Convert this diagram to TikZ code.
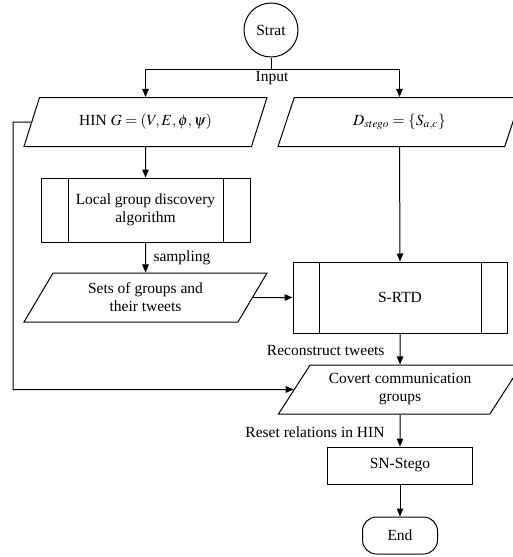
\documentclass[tikz,border=0pt]{standalone}
\usepackage{mathptmx}
\usepackage{fontspec}
\setmainfont{Liberation Serif}
\usetikzlibrary{arrows.meta,shapes.geometric}
\begin{document}
\begin{tikzpicture}[x=1pt,y=-1pt,
  font=\fontsize{15.5}{18}\selectfont,
  line width=1pt,
  arr/.style={-{Triangle[length=8pt,width=6.5pt]}},
  para/.style={draw,trapezium,trapezium left angle=45,trapezium right angle=135,
    trapezium stretches body,minimum width=243pt,minimum height=49pt,inner sep=0pt,align=center},
  proc/.style={draw,rectangle,inner sep=0pt,align=center,
    path picture={
      \draw ([xshift=#1]path picture bounding box.north west) -- ([xshift=#1]path picture bounding box.south west);
      \draw ([xshift=-#1]path picture bounding box.north east) -- ([xshift=-#1]path picture bounding box.south east);
    }},
  plainbox/.style={draw,rectangle,inner sep=0pt,align=center},
  lbl/.style={inner sep=0pt}
]
\useasboundingbox (0,0) rectangle (512,557);

\node[draw,circle,minimum size=54pt,inner sep=0pt] (start) at (271,30) {Strat};
\node[para] (hin) at (145.5,122) {HIN $G=(V,E,\phi,\psi)$};
\node[para] (dst) at (399.5,122) {$D_{stego}=\left\{S_{a,c}\right\}$};
\node[proc=27pt,minimum width=209pt,minimum height=64pt] (lgd) at (145.5,210) {Local group discovery\\algorithm};
\node[para] (sets) at (145.5,297.5) {Sets of groups and\\their tweets};
\node[proc=26pt,minimum width=214pt,minimum height=71pt] (srtd) at (400,297.5) {S-RTD};
\node[para] (cov) at (400,389.5) {Covert communication\\groups};
\node[plainbox,minimum width=145pt,minimum height=37pt] (sn) at (400,465.5) {SN-Stego};
\node[plainbox,rounded corners=14pt,minimum width=75pt,minimum height=37pt] (end) at (400,535.5) {End};

\coordinate (split) at (271,69);
\coordinate (fb) at (13,122);

\draw (start.south) -- (split);
\draw[arr] (split) -| (hin.north);
\draw[arr] (split) -| (dst.north);
\node[lbl] (inp) at (272,78) {Input};

\draw[arr] (hin.south) -- (lgd.north);
\draw[arr] (lgd.south) -- (sets.north);
\node[lbl,anchor=west] (samp) at (153,258) {sampling};

\draw[arr] (dst.south) -- (srtd.north);
\draw[arr] (sets.east) -- (srtd.west);

\draw[arr] (srtd.south) -- (cov.north);
\node[lbl,anchor=east] (rec) at (385,350) {Reconstruct tweets};

\draw[arr] (hin.west) -- (fb) |- (cov.west);

\draw[arr] (cov.south) -- (sn.north);
\node[lbl,anchor=east] (reset) at (385,432) {Reset relations in HIN};

\draw[arr] (sn.south) -- (end.north);
\end{tikzpicture}
\end{document}
